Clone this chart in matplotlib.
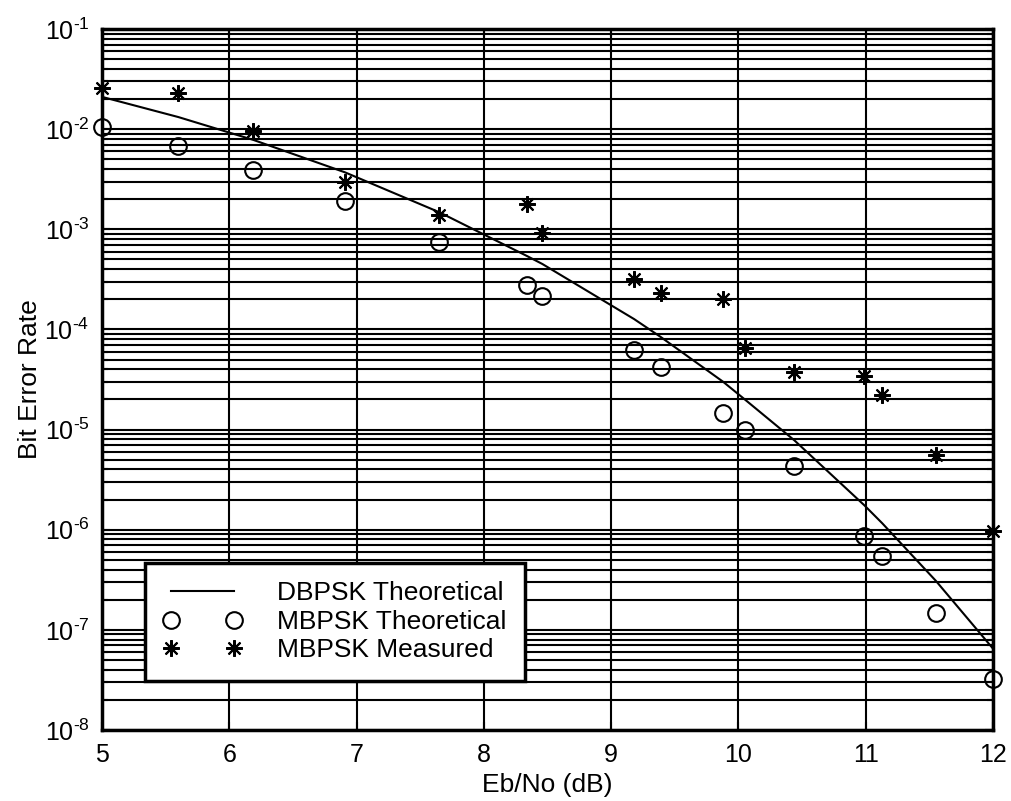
import math
import matplotlib.pyplot as plt
from matplotlib.ticker import FixedLocator, FuncFormatter, NullFormatter

plt.rcParams['font.family'] = ['Liberation Sans', 'DejaVu Sans']
plt.rcParams['mathtext.fontset'] = 'custom'
plt.rcParams['mathtext.rm'] = 'Liberation Sans'
plt.rcParams['mathtext.default'] = 'regular'
Fontsize = 19

# Eb/No points (dB)
ebno = [5.0, 5.6, 6.19, 6.91, 7.65, 8.34, 8.46, 9.18, 9.39, 9.88,
        10.05, 10.44, 10.99, 11.13, 11.55, 12.0]

# DBPSK theoretical curve
dbpsk_theory = [2.1e-2, 1.32e-2, 7.8e-3, 3.7e-3, 1.48e-3, 5.4e-4, 4.5e-4, 1.27e-4,
                8.4e-5, 3.0e-5, 2.0e-5, 7.8e-6, 1.75e-6, 1.16e-6, 3.1e-7, 6.5e-8]

# MBPSK theoretical
mbpsk_theory = [1.05e-2, 6.8e-3, 3.9e-3, 1.9e-3, 7.4e-4, 2.75e-4, 2.14e-4, 6.3e-5,
                4.2e-5, 1.48e-5, 1.0e-5, 4.3e-6, 8.7e-7, 5.5e-7, 1.48e-7, 3.2e-8]

# MBPSK measured
mbpsk_meas = [2.6e-2, 2.3e-2, 9.5e-3, 3.0e-3, 1.38e-3, 1.8e-3, 9.1e-4, 3.2e-4,
              2.3e-4, 2.0e-4, 6.6e-5, 3.8e-5, 3.4e-5, 2.2e-5, 5.6e-6, 9.8e-7]

decades = [10.0 ** -k for k in range(8, 0, -1)]


def decade_label(v, pos):
    return r'$10^{\text{-%d}}$' % abs(round(math.log10(v)))


fig = plt.figure(figsize=(10.11, 8.01), dpi=100)
ax = fig.add_axes([0.1009, 0.0886, 0.8813, 0.8752])

ax.plot(ebno, dbpsk_theory, '-', color='black', linewidth=1.5,
        label='DBPSK Theoretical')
ax.plot(ebno, mbpsk_theory, 'o', linestyle='none', markerfacecolor='none',
        markeredgecolor='black', markersize=12, markeredgewidth=1.5,
        clip_on=False, label='MBPSK Theoretical')
ax.plot(ebno, mbpsk_meas, marker=(8, 2, 0), linestyle='none', color='black',
        markersize=12, markeredgewidth=1.5, clip_on=False, label='MBPSK Measured')

ax.set_yscale('log')
ax.set_xlim(5, 12)
ax.set_ylim(1e-8, 1e-1)
ax.xaxis.set_major_locator(FixedLocator(range(5, 13)))
ax.yaxis.set_major_locator(FixedLocator(decades))
ax.yaxis.set_minor_locator(FixedLocator([d * m for d in decades[:-1] for m in range(2, 10)]))
ax.yaxis.set_minor_formatter(NullFormatter())
ax.yaxis.set_major_formatter(FuncFormatter(decade_label))

ax.grid(True, which='major', color='black', linewidth=1.5)
ax.grid(True, which='minor', axis='y', color='black', linewidth=1.5)

ax.tick_params(which='both', direction='in', top=True, right=True,
               labelsize=Fontsize - 1, width=1.5)
ax.tick_params(which='major', length=6, pad=9)
ax.tick_params(which='minor', length=4)
for spine in ax.spines.values():
    spine.set_linewidth(2.5)

ax.set_xlabel('Eb/No (dB)', fontsize=Fontsize, labelpad=5)
ax.set_ylabel('Bit Error Rate', fontsize=Fontsize, labelpad=2)

leg = ax.legend(loc='lower left', bbox_to_anchor=(0.048, 0.07), borderaxespad=0,
                numpoints=2, handlelength=3.0, handletextpad=1.3, fontsize=Fontsize,
                labelspacing=0.18, borderpad=0.7, fancybox=False, framealpha=1,
                edgecolor='black')
leg.get_frame().set_linewidth(2.5)

plt.savefig('out.png', dpi=100)
